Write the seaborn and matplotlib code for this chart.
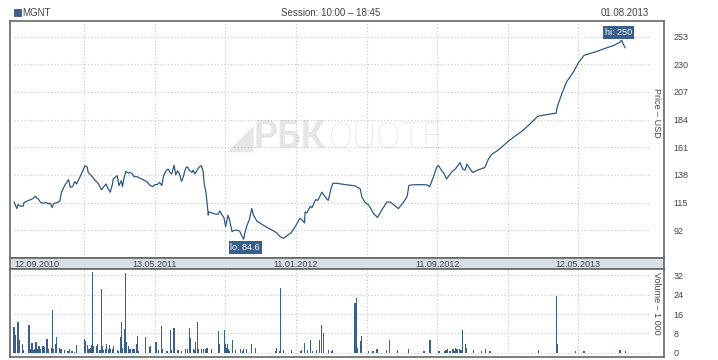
import numpy as np
import pandas as pd
import seaborn as sns
import matplotlib
matplotlib.use('Agg')
import matplotlib.pyplot as plt
from matplotlib.patches import Rectangle

# Données (jours depuis le 12.09.2010)
debut = pd.Timestamp('2010-09-12')
ticker = 'MGNT'
session = 'Session: 10:00 – 18:45'
date_fin = '01.08.2013'

jours_prix = [0, 5, 7, 10, 16, 17, 25, 29, 33, 37,
              39, 42, 46, 51, 56, 59, 62, 66, 68, 74,
              79, 82, 88, 94, 97, 101, 105, 108, 114, 120,
              122, 126, 128, 131, 136, 140, 144, 147, 151, 154,
              159, 161, 166, 170, 171, 176, 178, 181, 185, 187,
              190, 193, 197, 201, 204, 207, 212, 220, 229, 235,
              239, 243, 247, 251, 255, 258, 263, 266, 269, 272,
              276, 279, 282, 285, 289, 292, 296, 299, 302, 307,
              309, 312, 315, 319, 323, 326, 328, 331, 333, 335,
              336, 341, 348, 352, 355, 359, 362, 365, 369, 371,
              373, 376, 378, 384, 389, 393, 396, 398, 402, 406,
              410, 413, 419, 427, 436, 445, 453, 459, 465, 470,
              478, 485, 493, 497, 501, 502, 505, 511, 514, 520,
              524, 531, 535, 539, 542, 547, 550, 557, 571, 588,
              597, 600, 605, 612, 620, 627, 634, 643, 649, 654,
              663, 672, 678, 681, 686, 700, 712, 717, 723, 729,
              732, 737, 742, 746, 750, 756, 761, 765, 769, 774,
              778, 781, 785, 791, 801, 812, 818, 824, 833, 841,
              853, 864, 876, 887, 896, 903, 910, 922, 935, 937,
              945, 953, 965, 973, 983, 991, 1005, 1022, 1034, 1045,
              1048, 1051, 1054]
prix = [115.5, 110.1, 113.4, 112.2, 112.2, 115, 116.9, 117.5, 118.5, 120.4,
        119.1, 118, 115, 114.7, 115, 113.9, 114.7, 110.9, 114.2, 115,
        116.3, 123.7, 129.8, 134.1, 127.8, 128.4, 132.5, 130.6, 136.6, 142.9,
        145.6, 144.8, 140.1, 138.8, 136, 133.3, 131.9, 129.2, 125.7, 127.8,
        130.6, 127.8, 123.7, 130.6, 134.7, 136.6, 137.4, 129.2, 133.3, 128.4,
        136, 141, 139.6, 140.1, 138.8, 136.6, 136.6, 134.7, 132.5, 129.2,
        128.4, 130, 130, 131.9, 129.2, 137.4, 142.1, 142.9, 140.1, 138.8,
        146.2, 138, 141.5, 139.3, 132.7, 136.6, 143.7, 144.8, 142.1, 140.1,
        142.1, 138.8, 141.5, 144.5, 145.7, 141.5, 130.6, 123.7, 114.7, 104.6,
        107.3, 106.5, 105.4, 105.4, 108.1, 104.6, 102.7, 95, 104.6, 101.9,
        97.8, 90.9, 91.7, 92.2, 91.4, 87.3, 84.6, 89.5, 96.4, 101,
        110.1, 104.6, 99.6, 97.2, 94.5, 92.2, 90, 86.7, 85.4, 87.3,
        90, 95, 101.9, 100.5, 98.2, 107.3, 106.5, 112, 110.9, 117.5,
        116.9, 123.7, 121, 118.3, 116.9, 127.3, 131.1, 131.1, 130, 129,
        126.5, 119.6, 115.5, 112.8, 106, 102.7, 108.7, 115.5, 115.5, 113.6,
        110.1, 115.5, 120.2, 129.2, 129.8, 130, 129.8, 128.4, 136, 144.5,
        145.9, 142.1, 138.8, 134.7, 137.4, 141, 142.9, 145.6, 148.3, 143,
        142.1, 147, 144.2, 140.1, 142.4, 144.2, 151.1, 155.2, 158, 161.2,
        166.2, 170.3, 174.4, 179.1, 183.4, 186.7, 187.5, 188.4, 189.4, 194.9,
        205.8, 215.4, 223.7, 231.1, 237.4, 238.7, 240.7, 243.7, 245.6, 248.4,
        250, 246.5, 243.7]

jours_volume = [0, 2, 3, 7, 10, 15, 17, 26, 28, 29,
                31, 33, 35, 36, 38, 40, 43, 45, 50, 52,
                57, 59, 60, 64, 66, 68, 71, 73, 78, 79,
                81, 87, 92, 94, 95, 99, 101, 104, 108, 121,
                123, 127, 128, 130, 132, 133, 135, 137, 142, 144,
                147, 149, 151, 152, 154, 158, 159, 163, 164, 166,
                170, 171, 178, 180, 183, 185, 187, 190, 192, 194,
                197, 199, 201, 204, 206, 208, 211, 213, 215, 227,
                233, 235, 245, 249, 254, 256, 263, 264, 270, 271,
                275, 276, 282, 284, 289, 296, 299, 303, 304, 309,
                311, 313, 316, 318, 323, 327, 330, 332, 333, 340,
                352, 354, 363, 364, 366, 368, 370, 371, 377, 382,
                390, 394, 396, 401, 409, 416, 451, 452, 458, 459,
                465, 478, 494, 496, 501, 506, 511, 515, 522, 527,
                530, 534, 542, 547, 550, 588, 590, 592, 597, 599,
                600, 611, 619, 626, 642, 647, 662, 680, 681, 707,
                716, 718, 733, 742, 745, 747, 752, 757, 759, 761,
                764, 768, 771, 773, 778, 781, 792, 806, 813, 821,
                904, 935, 938, 969, 983, 1045, 1054]
volumes = [10.7, 5.3, 7.3, 12.8, 5.2, 3.5, 1.1, 11.5, 1.1, 1.5,
           3.9, 1.3, 1.8, 1.8, 4.4, 1.5, 2.7, 1.8, 2.7, 2.4,
           5.6, 1.5, 1.1, 2.1, 17.8, 1.5, 3.5, 6.5, 2.2, 2.2,
           1.7, 1.0, 0.6, 0.6, 1.4, 0.7, 0.7, 0.4, 3.4, 5.6,
           4.9, 3.4, 1.4, 1.7, 2.2, 3.4, 33.4, 2.7, 2.9, 3.5,
           1.1, 1.3, 26.3, 2.9, 1.3, 1.4, 3.5, 1.8, 3.1, 1.8,
           1.8, 2.7, 1.0, 0.6, 6.5, 12.8, 2.2, 9.8, 33.0, 4.4,
           2.7, 1.8, 1.8, 1.8, 1.5, 1.5, 3.5, 6.9, 0.7, 6.5,
           2.4, 2.7, 4.4, 1.0, 11.1, 1.5, 0.7, 0.7, 9.5, 1.0,
           2.2, 10.4, 1.0, 1.0, 0.6, 1.4, 1.4, 10.2, 6.2, 1.4,
           1.0, 4.4, 12.8, 1.4, 1.4, 1.4, 1.4, 2.2, 2.2, 1.4,
           9.0, 3.5, 9.5, 3.5, 2.2, 3.5, 1.4, 0.6, 5.2, 1.0,
           1.8, 0.6, 1.8, 1.8, 3.5, 2.2, 0.6, 2.2, 0.6, 26.7,
           1.0, 1.0, 0.6, 1.0, 3.9, 1.0, 5.2, 0.6, 1.0, 5.2,
           11.5, 8.1, 1.0, 0.6, 1.0, 20.4, 22.5, 2.2, 4.8, 6.9,
           4.8, 0.6, 0.6, 1.4, 1.0, 5.2, 1.0, 1.4, 1.0, 0.6,
           5.2, 5.2, 0.6, 0.6, 1.0, 1.8, 0.6, 1.4, 0.6, 2.2,
           1.4, 1.4, 1.0, 9.4, 3.5, 2.2, 1.0, 0.6, 1.8, 0.6,
           1.0, 23.3, 3.5, 0.6, 0.6, 1.0, 0.6]

dates_axe = ['12.09.2010', '13.05.2011', '11.01.2012', '11.09.2012', '12.05.2013']
ticks_prix = [92, 115, 138, 161, 184, 207, 230, 253]
ticks_volume = [0, 8, 16, 24, 32]

df_prix = pd.DataFrame({'date': debut + pd.to_timedelta(jours_prix, unit='D'), 'prix': prix})
df_vol = pd.DataFrame({'date': debut + pd.to_timedelta(jours_volume, unit='D'), 'volume': volumes})

sns.set_theme(style='white')
plt.rcParams['font.family'] = ['Liberation Sans', 'DejaVu Sans']

BLEU = '#3a5f8a'
GRIS = '#444444'
W, H = 718, 360
fig = plt.figure(figsize=(7.18, 3.6), dpi=100)


def axes_px(x0, y0, x1, y1):
    return fig.add_axes([x0 / W, 1 - y1 / H, (x1 - x0) / W, (y1 - y0) / H])


ax = axes_px(10, 21, 664, 258)
ax_d = axes_px(10, 258, 664, 269)
ax_v = axes_px(10, 269, 664, 357)

xmin = debut - pd.Timedelta(days=6.9)
xmax = debut + pd.Timedelta(days=1121)
fin_grille = debut + pd.Timedelta(days=1095)

# positions des dates et des lignes verticales
pos_dates = [pd.to_datetime(d, format='%d.%m.%Y') for d in dates_axe]
lignes_v = pos_dates[1:] + [a + (b - a) / 2 for a, b in zip(pos_dates[:-1], pos_dates[1:])]

style_grille = dict(color='#c4c4c4', linestyle=(0, (1, 2)), linewidth=0.8, zorder=1)

# Prix
sns.lineplot(data=df_prix, x='date', y='prix', ax=ax, color='#2f5985', linewidth=0.9,
             estimator=None, zorder=3)
ax.set_xlim(xmin, xmax)
ax.set_ylim(69, 266)
ax.hlines(ticks_prix, debut, fin_grille, **style_grille)
for d in lignes_v:
    ax.axvline(d, **style_grille)
ax.set_xticks([])
ax.set_yticks(ticks_prix)
ax.yaxis.tick_right()
ax.tick_params(axis='y', length=0, pad=7, labelsize=6.5, labelcolor=GRIS)
ax.set_xlabel('')
ax.set_ylabel('')
ax.text(0.988, 0.612, 'Price – USD', transform=ax.transAxes, rotation=270,
        ha='center', va='center', fontsize=6.5, color=GRIS)

# filigrane
ax.text(0.352, 0.508, '◢', transform=ax.transAxes, ha='center', va='center',
        fontsize=25, color='#e6e6e6', family='DejaVu Sans', zorder=0)
ax.text(0.373, 0.508, 'РБК', transform=ax.transAxes, ha='left', va='center',
        fontsize=27, fontweight='bold', color='#e6e6e6', family='Roboto', zorder=0)
ax.text(0.487, 0.508, 'QUOTE', transform=ax.transAxes, ha='left', va='center',
        fontsize=26, fontweight='light', color='#e8e8e8', family='Roboto', zorder=0)

# étiquettes hi / lo
i_lo = int(np.argmin(prix))
i_hi = int(np.argmax(prix))
boite = dict(boxstyle='square,pad=0.2', fc=BLEU, ec='none')
ax.annotate(f'lo: {prix[i_lo]:g}', xy=(df_prix['date'][i_lo], prix[i_lo]), xytext=(1.2, -6),
            textcoords='offset points', ha='center', va='center', fontsize=6.5,
            color='white', bbox=boite, zorder=5)
ax.annotate(f'hi: {prix[i_hi]:g}', xy=(df_prix['date'][i_hi], prix[i_hi]), xytext=(-2.2, 5.6),
            textcoords='offset points', ha='center', va='center', fontsize=6.5,
            color='white', bbox=boite, zorder=5)

# bande des dates
ax_d.set_facecolor('#d7dfe7')
ax_d.set_xlim(xmin, xmax)
ax_d.set_ylim(0, 1)
ax_d.set_xticks([])
ax_d.set_yticks([])
for i, (d, txt) in enumerate(zip(pos_dates, dates_axe)):
    ax_d.text(d, 0.45, txt, ha='left' if i == 0 else 'center', va='center',
              fontsize=6.5, color=GRIS)

# Volume
ax_v.bar(df_vol['date'], df_vol['volume'], width=2.0, color=BLEU, linewidth=0, zorder=3)
ax_v.set_xlim(xmin, xmax)
ax_v.set_ylim(-1.7, 34.6)
ax_v.hlines(ticks_volume, debut, fin_grille, **style_grille)
for d in lignes_v:
    ax_v.axvline(d, **style_grille)
ax_v.set_xticks([])
ax_v.set_yticks(ticks_volume)
ax_v.yaxis.tick_right()
ax_v.tick_params(axis='y', length=0, pad=7, labelsize=6.5, labelcolor=GRIS)
ax_v.text(0.988, 0.614, 'Volume – 1 000', transform=ax_v.transAxes, rotation=270,
          ha='center', va='center', fontsize=6.5, color=GRIS)

for a in (ax, ax_d, ax_v):
    for s in a.spines.values():
        s.set_color('#666666')
        s.set_linewidth(1.2)

# en-tête
fig.patches.append(Rectangle((14 / W, 1 - 16 / H), 7 / W, 7 / H, transform=fig.transFigure,
                             facecolor=BLEU, edgecolor='#2a4a70', linewidth=0.5))
fig.text(22 / W, 1 - 12.5 / H, ticker, va='center', ha='left', fontsize=7, color=GRIS)
fig.text(331 / W, 1 - 12.5 / H, session, va='center', ha='center', fontsize=7, color=GRIS)
fig.text(649 / W, 1 - 12.5 / H, date_fin, va='center', ha='right', fontsize=7, color=GRIS)

fig.savefig('out.png', dpi=100)
